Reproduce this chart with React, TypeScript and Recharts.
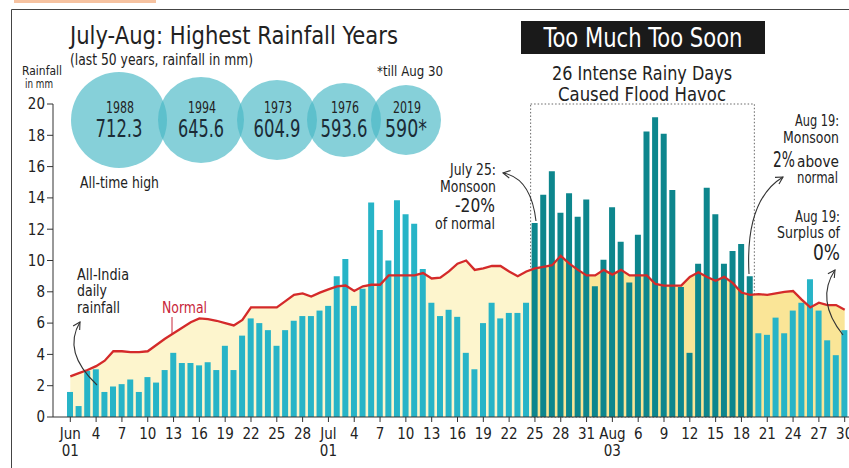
import React from 'react';
import { ComposedChart, Bar, Line, Area, XAxis, YAxis, Cell, ReferenceArea } from 'recharts';

// daily all-India rainfall (mm)
const months = ['Jun', 'Jul', 'Aug'];
const junRain = [1.6, 0.7, 2.95, 3.05, 1.6, 1.95, 2.1, 2.4, 1.6, 2.55, 2.2, 3.0, 4.1, 3.45, 3.45, 3.3, 3.5, 3.0, 4.55, 3.0, 5.2, 6.3, 6.0, 5.55, 4.55, 5.55, 6.15, 6.45, 6.45, 6.8];
const julRain = [7.1, 9.0, 10.1, 7.1, 8.2, 13.7, 11.95, 10.0, 13.85, 12.95, 12.35, 9.45, 7.3, 6.45, 6.85, 6.4, 4.1, 3.05, 6.0, 7.3, 6.3, 6.65, 6.65, 7.3, 12.4, 14.2, 15.7, 13.05, 14.3, 12.8, 13.9];
const augRain = [8.35, 10.05, 13.4, 11.2, 8.6, 11.65, 18.25, 19.15, 18.1, 14.5, 8.3, 4.1, 9.8, 14.65, 12.95, 9.8, 10.6, 11.05, 9.0, 5.35, 5.25, 6.35, 5.35, 6.8, 7.3, 8.8, 6.8, 4.9, 3.95, 5.55];

// normal rainfall line
const junNormal = [2.6, 2.8, 3.0, 3.25, 3.6, 4.2, 4.2, 4.15, 4.15, 4.2, 4.6, 5.0, 5.35, 5.7, 6.05, 6.3, 6.25, 6.15, 6.0, 5.85, 6.2, 7.0, 7.0, 7.0, 7.0, 7.4, 7.8, 7.9, 7.7, 7.95];
const julNormal = [8.15, 8.35, 8.4, 8.05, 8.35, 8.45, 8.45, 9.05, 9.05, 9.05, 9.05, 9.2, 8.85, 8.9, 9.3, 9.8, 10.0, 9.4, 9.5, 9.65, 9.65, 9.3, 9.0, 9.3, 9.5, 9.6, 9.7, 10.3, 9.8, 9.4, 9.05];
const augNormal = [9.05, 9.4, 9.1, 9.4, 9.05, 9.05, 9.05, 8.5, 8.4, 8.4, 8.4, 8.95, 9.25, 8.95, 8.7, 8.95, 8.55, 7.95, 7.8, 7.85, 7.8, 7.9, 8.0, 8.05, 7.5, 7.0, 7.3, 7.15, 7.15, 6.85];

// one label every third day
const tickLabels = [
  'Jun\n01', '4', '7', '10', '13', '16', '19', '22', '25', '28',
  'Jul\n01', '4', '7', '10', '13', '16', '19', '22', '25', '28', '31',
  'Aug\n03', '6', '9', '12', '15', '18', '21', '24', '27', '30',
];
const yTicks = [0, 2, 4, 6, 8, 10, 12, 14, 16, 18, 20];

const intenseFrom = 'Jul 25';
const intenseTo = 'Aug 19';

// July-Aug highest rainfall years
const topYears = ['1988', '1994', '1973', '1976', '2019'];
const topRain = ['712.3', '645.6', '604.9', '593.6', '590*'];

const monthRain = [junRain, julRain, augRain];
const monthNormal = [junNormal, julNormal, augNormal];
const data = months.flatMap((m, mi) =>
  monthRain[mi].map((rain, d) => ({
    day: `${m} ${String(d + 1).padStart(2, '0')}`,
    rain,
    normal: monthNormal[mi][d],
  }))
);
const days = data.map((d) => d.day);
const iFrom = days.indexOf(intenseFrom);
const iTo = days.indexOf(intenseTo);
const split = (iFrom - 0.4) / (days.length - 1);

const FONT = "'Liberation Sans Narrow', 'Arial Narrow', 'DejaVu Sans Condensed', Roboto, sans-serif";
const INK = '#222';

function DayTick({ x, y, payload }: any) {
  const i = days.indexOf(payload.value);
  const label = i % 3 === 0 ? tickLabels[i / 3] : '';
  const [a, b] = (label || '').split('\n');
  return (
    <text x={x} y={y} textAnchor="middle" fontSize={15} fill={INK}>
      <tspan x={x} dy={15}>{a}</tspan>
      {b && <tspan x={x} dy={17}>{b}</tspan>}
    </text>
  );
}

function T({ x, y, size, len, anchor = 'start', fill = INK, children }: any) {
  return (
    <text x={x} y={y} fontSize={size} textAnchor={anchor} fill={fill}
      textLength={len} lengthAdjust={len ? 'spacingAndGlyphs' : undefined}>
      {children}
    </text>
  );
}

function Arrow({ s, c, e }: { s: number[]; c: number[]; e: number[] }) {
  const a = Math.atan2(e[1] - c[1], e[0] - c[0]);
  const h = 8;
  const p1 = [e[0] - h * Math.cos(a - 0.5), e[1] - h * Math.sin(a - 0.5)];
  const p2 = [e[0] - h * Math.cos(a + 0.5), e[1] - h * Math.sin(a + 0.5)];
  return (
    <g fill="none" stroke="#333" strokeWidth={1.1}>
      <path d={`M${s} Q${c} ${e}`} />
      <path d={`M${p1} L${e} L${p2}`} />
    </g>
  );
}

const circles = [
  { cx: 119, r: 48, w: 47 },
  { cx: 201, r: 43, w: 46 },
  { cx: 277, r: 40, w: 47 },
  { cx: 344, r: 37, w: 47 },
  { cx: 406, r: 35, w: 42 },
];

export default function App() {
  return (
    <div style={{ position: 'absolute', left: 0, top: 0, width: 849, height: 468, background: '#fff', fontFamily: FONT, overflow: 'hidden' }}>
      <ComposedChart width={849} height={468} data={data} margin={{ top: 104, right: 0, bottom: 21, left: 8 }} barSize={6}>
        <defs>
          <linearGradient id="normalFill" x1="0" y1="0" x2="1" y2="0">
            <stop offset={split} stopColor="#fdf5cd" />
            <stop offset={split} stopColor="#fae597" />
          </linearGradient>
        </defs>
        <XAxis dataKey="day" interval={2} tick={<DayTick />} tickSize={5}
          axisLine={{ stroke: '#333' }} tickLine={{ stroke: '#333' }} height={30}
          padding={{ left: 13, right: 0 }} />
        <YAxis domain={[0, 20]} ticks={yTicks} width={45} tickSize={6}
          tick={{ fontSize: 15, fill: INK }} axisLine={{ stroke: '#333' }} tickLine={{ stroke: '#333' }} />
        <ReferenceArea x1={intenseFrom} x2={intenseTo} y1={0} y2={20} fill="none"
          stroke="#666" strokeDasharray="1.5 2" strokeWidth={1} />
        <Area type="linear" dataKey="normal" stroke="none" fill="url(#normalFill)" fillOpacity={1} isAnimationActive={false} />
        <Bar dataKey="rain" isAnimationActive={false}>
          {data.map((d, i) => (
            <Cell key={d.day} fill={i >= iFrom && i <= iTo ? '#0d868d' : '#27b4c7'} />
          ))}
        </Bar>
        <Line type="linear" dataKey="normal" stroke="#d42a2a" strokeWidth={2.3} dot={false} isAnimationActive={false} />
      </ComposedChart>

      <svg width={849} height={468} style={{ position: 'absolute', left: 0, top: 0, pointerEvents: 'none' }}>
        {/* cut-off header remnant and frame */}
        <rect x={14} y={0} width={142} height={3} fill="#f6c2a0" />
        <line x1={11.5} y1={9.5} x2={849} y2={9.5} stroke="#444" />
        <line x1={11.5} y1={9.5} x2={11.5} y2={468} stroke="#444" />

        <T x={70} y={44} size={25} len={328}>July-Aug: Highest Rainfall Years</T>
        <T x={70} y={65} size={15} len={183}>(last 50 years, rainfall in mm)</T>
        <T x={42} y={75} size={12.5} len={40} anchor="middle">Rainfall</T>
        <T x={39} y={88} size={12.5} len={28} anchor="middle">in mm</T>
        <T x={377} y={76} size={14} len={66}>*till Aug 30</T>

        {circles.map((c, i) => (
          <circle key={i} cx={c.cx} cy={120} r={c.r} fill="rgb(72,183,197)" fillOpacity={0.66} />
        ))}
        {circles.map((c, i) => (
          <g key={'t' + i}>
            <T x={c.cx + 1} y={113} size={15} len={28} anchor="middle">{topYears[i]}</T>
            <T x={c.cx} y={137} size={24} len={c.w} anchor="middle" fill="#1b2b36">{topRain[i]}</T>
          </g>
        ))}
        <T x={80} y={188} size={15} len={79}>All-time high</T>

        <rect x={521} y={21} width={244} height={33} fill="#1a1a1a" />
        <T x={643} y={47} size={26} len={199} anchor="middle" fill="#fff">Too Much Too Soon</T>
        <T x={642} y={80} size={20} len={180} anchor="middle">26 Intense Rainy Days</T>
        <T x={642} y={101} size={20} len={168} anchor="middle">Caused Flood Havoc</T>

        <T x={496} y={175} size={15} len={46} anchor="end">July 25:</T>
        <T x={496} y={192} size={15} len={56} anchor="end">Monsoon</T>
        <T x={495} y={212} size={20} len={40} anchor="end">-20%</T>
        <T x={495} y={229} size={15} len={60} anchor="end">of normal</T>
        <Arrow s={[536, 221]} c={[531, 178]} e={[503, 173]} />

        <T x={839} y={126} size={15} len={44} anchor="end">Aug 19:</T>
        <T x={839} y={143} size={15} len={56} anchor="end">Monsoon</T>
        <T x={773} y={167} size={21} len={22}>2%</T>
        <T x={839} y={167} size={15} len={42} anchor="end">above</T>
        <T x={838} y={183} size={15} len={41} anchor="end">normal</T>
        <Arrow s={[749, 274]} c={[745, 200]} e={[783, 177]} />

        <T x={840} y={222} size={15} len={45} anchor="end">Aug 19:</T>
        <T x={840} y={238} size={15} len={63} anchor="end">Surplus of</T>
        <T x={840} y={260} size={21} len={27} anchor="end">0%</T>
        <Arrow s={[843, 335]} c={[815, 300]} e={[835, 270]} />

        <T x={77} y={280} size={15} len={52}>All-India</T>
        <T x={77} y={296} size={15} len={30}>daily</T>
        <T x={77} y={313} size={15} len={43}>rainfall</T>
        <Arrow s={[97, 385]} c={[62, 352]} e={[80, 322]} />

        <T x={162} y={313} size={15} len={45} fill="#c8263a">Normal</T>
        <line x1={172} y1={317} x2={172} y2={334} stroke="#c8263a" strokeWidth={1} />
      </svg>
    </div>
  );
}
